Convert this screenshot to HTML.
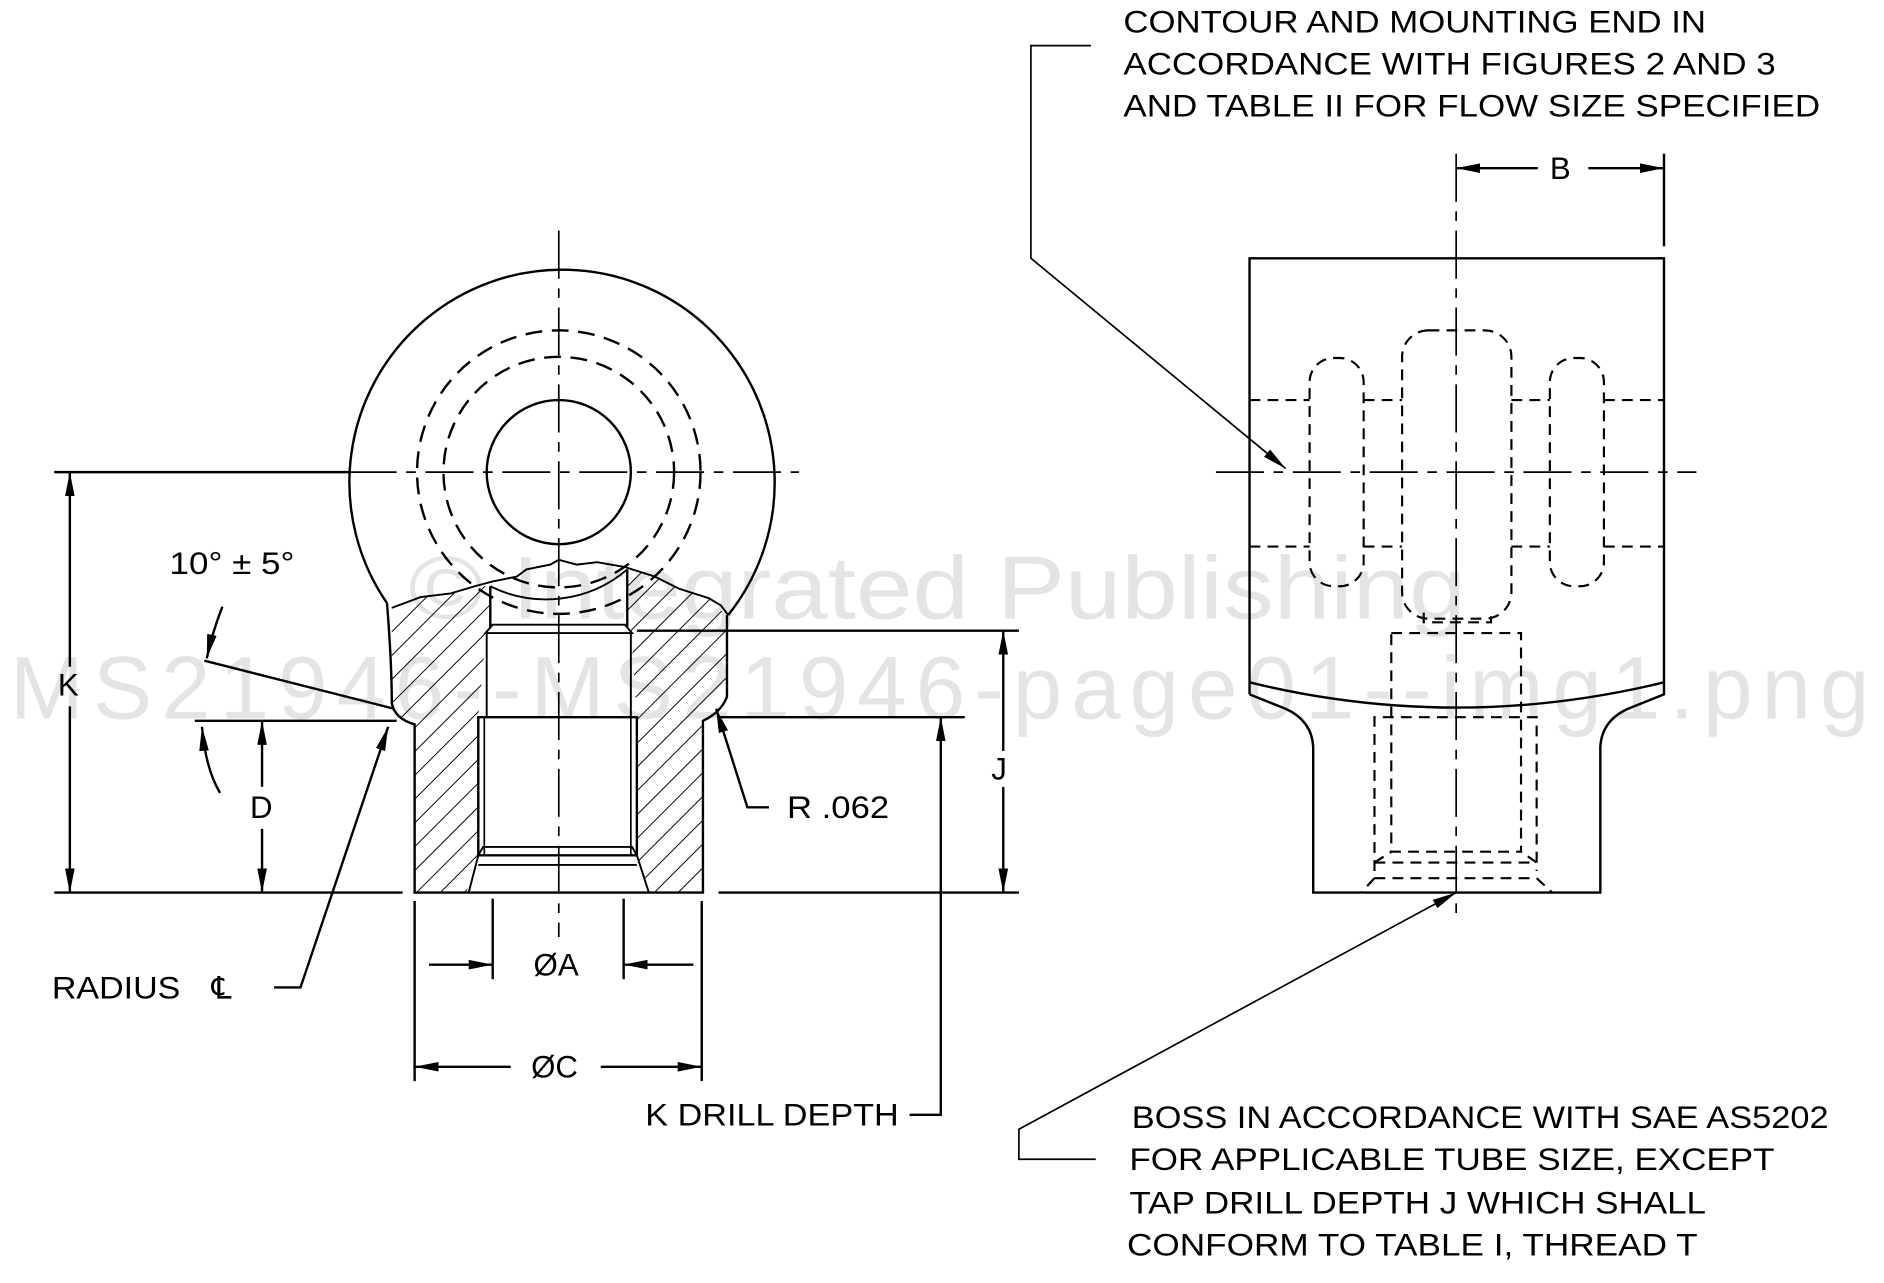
<!DOCTYPE html>
<html><head><meta charset="utf-8"><style>
html,body{margin:0;padding:0;background:#fff;}
svg{display:block;}
text{font-family:"Liberation Sans",Arial,sans-serif;fill:#000;}
</style></head><body>
<svg width="1884" height="1283" viewBox="0 0 1568 1068" xmlns="http://www.w3.org/2000/svg">
<defs>
<pattern id="h" patternUnits="userSpaceOnUse" width="14" height="14" patternTransform="rotate(45)">
<line x1="0" y1="0" x2="0" y2="14" stroke="#000" stroke-width="1.6"/>
</pattern>
<marker id="a" viewBox="0 0 20 8" refX="20" refY="4" markerWidth="20" markerHeight="8" markerUnits="userSpaceOnUse" orient="auto">
<path d="M0,0 L20,4 L0,8 Z" fill="#000"/>
</marker>
</defs>
<!-- watermark -->
<text x="340" y="515" font-size="74" style="fill:#e4e4e4" textLength="880" lengthAdjust="spacingAndGlyphs">© Integrated Publishing</text>
<text x="8" y="598" font-size="74" style="fill:#e4e4e4" textLength="1548">MS21946--MS21946-page01--img1.png</text>

<g fill="none" stroke="#000" stroke-width="2">
<!-- LEFT VIEW -->
<path d="M322,502 A177,177 0 1 1 606,512"/>
<path d="M322,502 C325,540 326,570 326,585 Q328,598 345,603 L345,743 L585,743 L585,600 Q600,593 605,580 L605,512"/>
<circle cx="465" cy="393" r="60"/>
<circle cx="465" cy="393" r="118" stroke-dasharray="14,8"/>
<circle cx="465" cy="393" r="96" stroke-dasharray="14,8"/>
<path d="M326,506 L350,497 L375,494 L395,488 L408,488 L408,522 L405,522 L398,597 L398,712 L388,743 L345,743 L345,603 Q328,598 326,585 Z" fill="url(#h)" stroke="none"/>
<path d="M522,474 L545,480 L565,490 L590,498 L604,512 L605,580 Q600,593 585,600 L585,743 L540,743 L530,712 L530,597 L525,522 L522,522 Z" fill="url(#h)" stroke="none"/>
<path d="M326,506 L350,497 L375,494 L395,488 L410,484 L430,480 L438,474 L458,470 L465,466 L480,470 L497,468 L520,472 L545,480 L565,490 L590,498 L600,504 L606,512" stroke-width="1.6"/>
<path d="M408,488 A104,104 0 0 0 522,474" stroke-width="1.6"/>
<path d="M408,488 L408,522 M522,474 L522,522"/>
<path d="M410,520 L520,520 L526,527 L404,527 Z" stroke-width="1.6"/>
<path d="M405,527 L405,597 M525,527 L525,597" stroke-width="1.6"/>
<path d="M398,597 L530,597 L530,712 L398,712 Z"/>
<path d="M403,597 L403,712 M525,597 L525,712" stroke-width="1.4"/>
<path d="M398,712 L402,705 L526,705 L530,712 M398,720 L530,720 M398,712 L390,743 M530,712 L540,743" stroke-width="1.6"/>
<path d="M465,192 L465,780" stroke-width="1.4" stroke-dasharray="40,8,8,8"/>
<path d="M290,393 L665,393" stroke-width="1.4" stroke-dasharray="40,8,8,8"/>
<path d="M45,393 L290,393"/>
<path d="M45,743 L335,743 M598,743 L848,743"/>
<path d="M58,555 L58,393" marker-end="url(#a)"/>
<path d="M58,588 L58,743" marker-end="url(#a)"/>
<path d="M162,600 L330,600"/>
<path d="M218,655 L218,600" marker-end="url(#a)"/>
<path d="M218,690 L218,743" marker-end="url(#a)"/>
<path d="M183,660 Q171,640 168,605" marker-end="url(#a)"/>
<path d="M170,550 L328,590"/>
<path d="M185,505 Q177,525 172,548" marker-end="url(#a)"/>
<path d="M530,525 L848,525"/>
<path d="M835,625 L835,525" marker-end="url(#a)"/>
<path d="M835,655 L835,743" marker-end="url(#a)"/>
<path d="M597,597 L803,597"/>
<path d="M783,745 L783,597" marker-end="url(#a)"/>
<path d="M783,743 L783,928 L757,928"/>
<path d="M640,672 L622,672 L596,590" marker-end="url(#a)"/>
<path d="M228,822 L250,822 L323,605" marker-end="url(#a)"/>
<path d="M410,748 L410,815 M519,748 L519,815"/>
<path d="M357,803 L410,803" marker-end="url(#a)"/>
<path d="M577,803 L519,803" marker-end="url(#a)"/>
<path d="M345,750 L345,900 M584,750 L584,900"/>
<path d="M425,888 L345,888" marker-end="url(#a)"/>
<path d="M500,888 L584,888" marker-end="url(#a)"/>

<!-- RIGHT VIEW -->
<path d="M1040,568 L1040,215 L1385,215 L1385,568"/>
<path d="M1040,568 Q1212,610 1385,568" />
<path d="M1040,578 L1070,590 Q1092,600 1093,622 L1093,743 L1332,743 L1332,622 Q1333,600 1355,590 L1385,578 L1385,568 M1040,568 L1040,578"/>
<g stroke-dasharray="9,6" stroke-width="1.8">
<rect x="1167" y="275" width="91" height="240" rx="22"/>
<rect x="1090" y="298" width="45" height="190" rx="20"/>
<rect x="1290" y="298" width="45" height="190" rx="20"/>
<path d="M1040,333 L1090,333 M1135,333 L1167,333 M1258,333 L1290,333 M1335,333 L1385,333"/>
<path d="M1040,455 L1090,455 M1135,455 L1167,455 M1258,455 L1290,455 M1335,455 L1385,455"/>
<path d="M1185,510 L1185,518 L1241,518 L1241,510"/>
<rect x="1158" y="527" width="108" height="182"/>
<path d="M1144,725 L1144,597 L1279,597 L1279,725"/>
<path d="M1144,718 L1158,709 M1279,718 L1266,709 M1144,718 L1279,718 M1144,731 L1279,731 M1144,731 L1133,743 M1279,731 L1292,743"/>
</g>
<path d="M1212,128 L1212,765" stroke-width="1.4" stroke-dasharray="40,8,8,8"/>
<path d="M1012,393 L1412,393" stroke-width="1.4" stroke-dasharray="40,8,8,8"/>
<path d="M1385,128 L1385,205"/>
<path d="M1280,140 L1212,140" marker-end="url(#a)"/>
<path d="M1322,140 L1385,140" marker-end="url(#a)"/>
<path d="M908,38 L858,38 L858,215 L1070,390" stroke-width="1.4" marker-end="url(#a)"/>
<path d="M912,965 L848,965 L848,940 L1212,743" stroke-width="1.4" marker-end="url(#a)"/>
</g>

<g font-size="26" lengthAdjust="spacingAndGlyphs">
<text x="48" y="579">K</text>
<text x="208" y="681">D</text>
<text x="141" y="478" textLength="104" lengthAdjust="spacingAndGlyphs">10° ± 5°</text>
<text x="825" y="649">J</text>
<text x="655" y="681" textLength="85" lengthAdjust="spacingAndGlyphs">R .062</text>
<text x="43" y="831" textLength="107" lengthAdjust="spacingAndGlyphs">RADIUS</text>
<text x="176" y="831">℄</text>
<text x="444" y="812">ØA</text>
<text x="442" y="897">ØC</text>
<text x="537" y="937" textLength="211" lengthAdjust="spacingAndGlyphs">K DRILL DEPTH</text>
<text x="1290" y="149">B</text>
<text x="935" y="27" textLength="485" lengthAdjust="spacingAndGlyphs">CONTOUR AND MOUNTING END IN</text>
<text x="935" y="62" textLength="543" lengthAdjust="spacingAndGlyphs">ACCORDANCE WITH FIGURES 2 AND 3</text>
<text x="935" y="97" textLength="580" lengthAdjust="spacingAndGlyphs">AND TABLE II FOR FLOW SIZE SPECIFIED</text>
<text x="942" y="939" textLength="580" lengthAdjust="spacingAndGlyphs">BOSS IN ACCORDANCE WITH SAE AS5202</text>
<text x="940" y="974" textLength="537" lengthAdjust="spacingAndGlyphs">FOR APPLICABLE TUBE SIZE, EXCEPT</text>
<text x="940" y="1010" textLength="480" lengthAdjust="spacingAndGlyphs">TAP DRILL DEPTH J WHICH SHALL</text>
<text x="938" y="1045" textLength="475" lengthAdjust="spacingAndGlyphs">CONFORM TO TABLE I, THREAD T</text>
</g>
</svg>
</body></html>
